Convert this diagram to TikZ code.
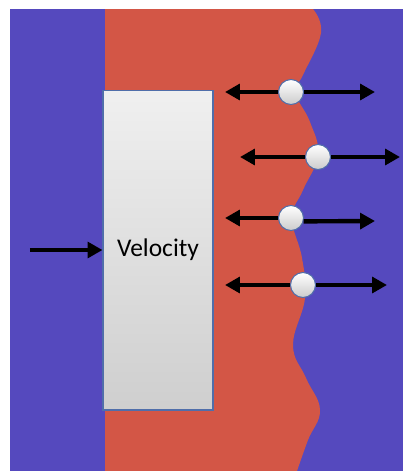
\documentclass[tikz,border=0pt]{standalone}
\usepackage{fontspec}
\setmainfont{Carlito}
\usepackage{xcolor}
\usepackage{tikz}
\usetikzlibrary{arrows.meta, positioning}
\definecolor{bgblue}{RGB}{85,73,190}
\definecolor{fluidred}{RGB}{211,86,70}
\definecolor{edgeblue}{RGB}{80,110,170}
\tikzset{
  pistonbox/.style={
    rectangle,
    draw=edgeblue,
    line width=0.6pt,
    top color=gray!12,
    bottom color=gray!38,
    minimum width=2.2cm,
    minimum height=6.4cm,
    font=\fontsize{14.5}{16}\selectfont,
  },
  particle/.style={
    circle,
    draw=edgeblue,
    line width=0.6pt,
    top color=white,
    bottom color=gray!40,
    minimum size=0.5cm,
    inner sep=0pt,
  },
  arrow/.style={
    -{Triangle[length=8.5pt, width=9pt]},
    line width=2.5pt,
    black
  }
}
\begin{document}
\begin{tikzpicture}[x=0.02cm, y=-0.02cm]
  \useasboundingbox (0,0) rectangle (403,471);

  % Background and fluid layer
  \fill [bgblue] (10,9) rectangle (403,471);
  \fill [fluidred] (105,9)
    -- plot [smooth, tension=0.7] coordinates {(313,9) (321,33) (303,75)
      (295,92) (310,122) (318,155) (303,190) (292,218) (302,258) (305,298)
      (293,345) (306,378) (320,410) (308,440) (297,471)}
    -- (105,471) -- cycle;

  % Piston
  \node [pistonbox] (vel) at (158,250) {Velocity};
  \coordinate (in) at (30,250);
  \draw [arrow] (in) -- (vel.west);

  % Particles on the interface
  \node [particle] (p1) at (291,92)  {};
  \node [particle] (p2) at (318,157) {};
  \node [particle] (p3) at (291,218) {};
  \node [particle] (p4) at (303,285) {};

  % Arrow ends
  \coordinate (l1) at (225,92);  \coordinate (r1) at (375,92);
  \coordinate (l2) at (240,157); \coordinate (r2) at (400,157);
  \coordinate (l3) at (225,218); \coordinate (r3) at (375,221);
  \coordinate (l4) at (225,285); \coordinate (r4) at (387,285);

  \foreach \i/\a in {1/0, 2/0, 3/-15, 4/0} {
    \draw [arrow] (p\i.west) -- (l\i);
    \draw [arrow] (p\i.\a) -- (r\i);
  }
\end{tikzpicture}
\end{document}
